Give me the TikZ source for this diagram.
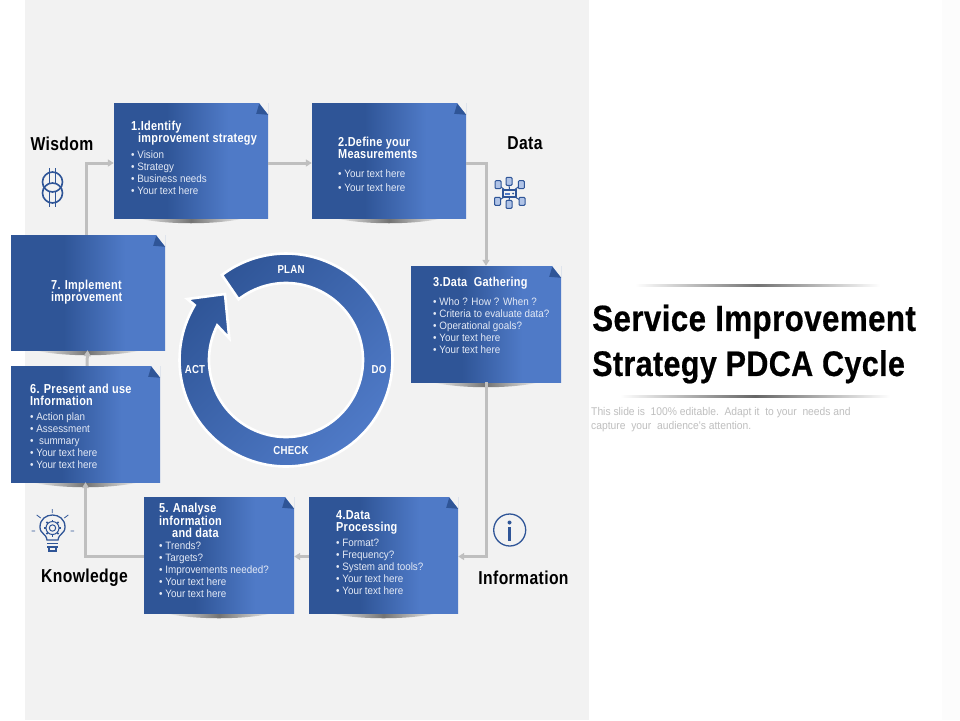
\documentclass[tikz,border=0pt]{standalone}
\usepackage{fontspec}
\setmainfont{Liberation Sans}
\newfontfamily\headfont[FakeStretch=0.84,LetterSpace=2]{Liberation Sans}
\newfontfamily\titlefont[FakeStretch=0.86,LetterSpace=1,BoldFeatures={FakeBold=0.5}]{Liberation Sans}
\newfontfamily\bodyfont[FakeStretch=0.92]{Liberation Sans}
\usetikzlibrary{arrows.meta}
\definecolor{panelgray}{HTML}{F2F2F2}
\definecolor{boxdark}{HTML}{2F5597}
\definecolor{boxlight}{HTML}{4F7AC7}
\definecolor{linegray}{HTML}{BFBFBF}
\definecolor{bodywhite}{HTML}{E4EAF6}
\definecolor{icoblue}{HTML}{2F5597}
\pgfdeclarehorizontalshading{notefill}{100bp}{color(0bp)=(boxdark); color(25bp)=(boxdark);
    color(42bp)=(boxdark); color(62bp)=(boxlight); color(100bp)=(boxlight)}
\begin{document}
\begin{tikzpicture}[x=1pt,y=-1pt,
        notesty/.style={rectangle,shading=notefill,inner sep=0pt},
        consty/.style={draw=linegray,line width=3pt,-{Triangle[length=6pt,width=7pt]}},
        headsty/.style={anchor=west,align=left,inner sep=0pt,text=white,
            font=\headfont\bfseries\fontsize{13}{12.2}\selectfont},
        liststy/.style={anchor=west,align=left,inner sep=0pt,text=bodywhite,
            font=\bodyfont\fontsize{10.7}{12}\selectfont},
        labsty/.style={inner sep=0pt,text=black,font=\headfont\bfseries\fontsize{18.7}{18}\selectfont},
        ringsty/.style={inner sep=0pt,text=white,font=\headfont\bfseries\fontsize{11.5}{12}\selectfont},
        icosty/.style={draw=icoblue,line width=1.3pt,fill=none},
    ]
    \useasboundingbox (0,0) rectangle (960,720);
    \fill[white] (0,0) rectangle (960,720);
    \fill[panelgray] (25,0) rectangle (589,720);
    \fill[black!1] (942,0) rectangle (960,720);
    % shadows under the notes
    \foreach \x/\y in {191/218,389/218,486/382,383.5/613,219/613,85.5/482,88/350}{
        \shade[left color=panelgray,right color=panelgray,middle color=black!55]
            (\x-55,\y) .. controls (\x-25,\y+7) and (\x+25,\y+7) .. (\x+55,\y) -- cycle;
    }
    % notes
    \node (b1) at (191,160.5) [notesty,minimum width=154pt,minimum height=115pt] {};
    \node (b2) at (389,160.5) [notesty,minimum width=154pt,minimum height=115pt] {};
    \node (b3) at (486,324) [notesty,minimum width=150pt,minimum height=116pt] {};
    \node (b4) at (383.5,555) [notesty,minimum width=149pt,minimum height=116pt] {};
    \node (b5) at (219,555) [notesty,minimum width=150pt,minimum height=116pt] {};
    \node (b6) at (85.5,424) [notesty,minimum width=149pt,minimum height=116pt] {};
    \node (b7) at (88,292.5) [notesty,minimum width=154pt,minimum height=115pt] {};
    \foreach \i in {1,...,7}{
        \fill[panelgray] (b\i.north east) ++(-9,0) -- ++(9,0) -- ++(0,12) -- cycle;
        \fill[boxdark] (b\i.north east) ++(-9,1) -- ++(9,11) -- ++(-12,-1) -- cycle;
    }
    % connectors
    \draw[consty] ([xshift=-2pt]b7.north) |- ([yshift=-2.5pt]b1.west);
    \draw[consty] ([yshift=-2.5pt]b1.east) -- ([yshift=-2.5pt]b2.west);
    \draw[consty] ([yshift=-2.5pt]b2.east) -| (b3.north);
    \draw[consty] (b3.south) |- ([yshift=-1.5pt]b4.east);
    \draw[consty] ([yshift=-1.5pt]b4.west) -- ([yshift=-1.5pt]b5.east);
    \draw[consty] ([yshift=-1.5pt]b5.west) -| (b6.south);
    \draw[consty] ([xshift=1.5pt]b6.north) -- ([xshift=-.5pt]b7.south);
    % note texts
    \node (h1) at (131,133) [headsty] {1.Identify\\\hspace*{7pt}improvement strategy};
    \node (l1) at (131,172.5) [liststy] {\textbullet\ Vision\\\textbullet\ Strategy\\\textbullet\ Business needs\\\textbullet\ Your text here};
    \node (h2) at (338,148) [headsty] {2.Define your\\Measurements};
    \node (l2) at (338,180.5) [liststy,font=\bodyfont\fontsize{10.7}{14}\selectfont] {\textbullet\ Your text here\\\textbullet\ Your text here};
    \node (h3) at (433,283.5) [headsty] {3.Data\ \ Gathering};
    \node (l3) at (433,325.5) [liststy] {\textbullet\ Who ? How ? When ?\\\textbullet\ Criteria to evaluate data?\\\textbullet\ Operational goals?\\\textbullet\ Your text here\\\textbullet\ Your text here};
    \node (h4) at (336,522.5) [headsty] {4.Data\\Processing};
    \node (l4) at (336,566.5) [liststy] {\textbullet\ Format?\\\textbullet\ Frequency?\\\textbullet\ System and tools?\\\textbullet\ Your text here\\\textbullet\ Your text here};
    \node (h5) at (159,520.5) [headsty] {5. Analyse\\information\\\hspace*{13pt}and data};
    \node (l5) at (159,569.5) [liststy] {\textbullet\ Trends?\\\textbullet\ Targets?\\\textbullet\ Improvements needed?\\\textbullet\ Your text here\\\textbullet\ Your text here};
    \node (h6) at (30,394.5) [headsty] {6. Present and use\\Information};
    \node (l6) at (30,440.5) [liststy] {\textbullet\ Action plan\\\textbullet\ Assessment\\\textbullet\ \ summary\\\textbullet\ Your text here\\\textbullet\ Your text here};
    \node (h7) at (51,292.5) [headsty] {7. Implement\\improvement};
    % cycle
    \path[draw=white,line width=2.6pt,top color=boxdark,bottom color=boxlight,shading angle=45]
        plot[domain=-127:211,samples=120] ({286+106.5*cos(\x)},{360+106.5*sin(\x)})
        -- (187.3,299) -- (225,294) -- (229.3,338.3)
        -- plot[domain=206.7:-128,samples=120] ({286+77*cos(\x)},{360+77*sin(\x)}) -- cycle;
    \node (plan) at (291,270) [ringsty] {PLAN};
    \node (do) at (379,369.5) [ringsty] {DO};
    \node (check) at (291,450.5) [ringsty] {CHECK};
    \node (act) at (195,369.5) [ringsty] {ACT};
    % outer labels
    \node (wisdom) at (62,143.5) [labsty] {Wisdom};
    \node (data) at (525,143.5) [labsty] {Data};
    \node (information) at (523.5,577.5) [labsty] {Information};
    \node (knowledge) at (84.5,577.5) [labsty] {Knowledge};
    % wisdom icon
    \draw[icosty,line width=1.6pt] (52.5,182) ellipse [x radius=10pt,y radius=10pt];
    \draw[icosty,line width=1.6pt] (52.5,193) ellipse [x radius=10pt,y radius=10pt];
    \foreach \x in {49.5,55.5}{
        \draw[icosty,line width=1.6pt] (\x,168) -- (\x,184);
        \draw[icosty,line width=1.6pt] (\x,191) -- (\x,207);
    }
    % knowledge icon
    \draw[icosty] (47,540) .. controls (46,533) and (40,534) .. (40,527)
        .. controls (40,511) and (65,511) .. (65,527)
        .. controls (65,534) and (59,533) .. (58,540) -- cycle;
    \draw[icosty] (47,543.5) -- (58,543.5) (47,547) -- (58,547);
    \draw[icosty] (49,547) -- (49,551) -- (56,551) -- (56,547);
    \draw[icosty,line width=1pt] (52.5,528) circle [radius=6.5pt] (52.5,528) circle [radius=3.2pt];
    \foreach \a in {0,45,...,315}{
        \draw[icosty,line width=1.6pt] ({52.5+6.5*cos(\a)},{528+6.5*sin(\a)}) -- ({52.5+8.5*cos(\a)},{528+8.5*sin(\a)});
    }
    \draw[icosty,line width=.8pt] (52.3,509) -- (52.3,513) (36.7,515) -- (40.7,518) (68.3,515) -- (64.3,518)
        (31.7,531) -- (35,531) (70.7,531) -- (74,531);
    % data icon
    \foreach \x/\y in {498/184.7,509/181.3,521.3/184.7,497.5/201.3,509/204.3,522/201.3}{
        \draw[icosty,line width=1pt] (509.5,193.5) -- (\x,\y);
        \draw[icosty,line width=1pt,fill=boxlight!45,rounded corners=1pt] (\x-3,\y-4) rectangle (\x+3,\y+4);
    }
    \draw[icosty,fill=panelgray] (503,190) rectangle (516,197);
    \fill[boxlight] (505,192.5) rectangle (510,194.5);
    \fill[icoblue] (513,193.5) circle [radius=1pt];
    % information icon
    \draw[icosty] (509.7,530) circle [radius=16pt];
    \fill[icoblue] (509.5,522.5) circle [radius=2pt];
    \draw[icosty,line width=2.2pt] (509.5,527) -- (509.5,541);
    % title
    \shade[left color=white,right color=white,middle color=black!55] (635,284) rectangle (880,286);
    \node (title) at (592,341) [anchor=west,align=left,inner sep=0pt,yshift=-3pt,
        font=\titlefont\bfseries\fontsize{36.5}{45}\selectfont] {Service Improvement\\\fontsize{35.5}{45}\selectfont Strategy PDCA Cycle};
    \shade[left color=white,right color=white,middle color=black!60] (620,395.7) rectangle (890,397);
    \node (sub) at (591,420) [anchor=west,align=left,inner sep=0pt,text=linegray,
        font=\bodyfont\fontsize{11.2}{14}\selectfont] {This slide is\ \ 100\% editable.\ \ Adapt it\ \ to your\ \ needs and\\capture\ \ your\ \ audience's attention.};
\end{tikzpicture}
\end{document}
